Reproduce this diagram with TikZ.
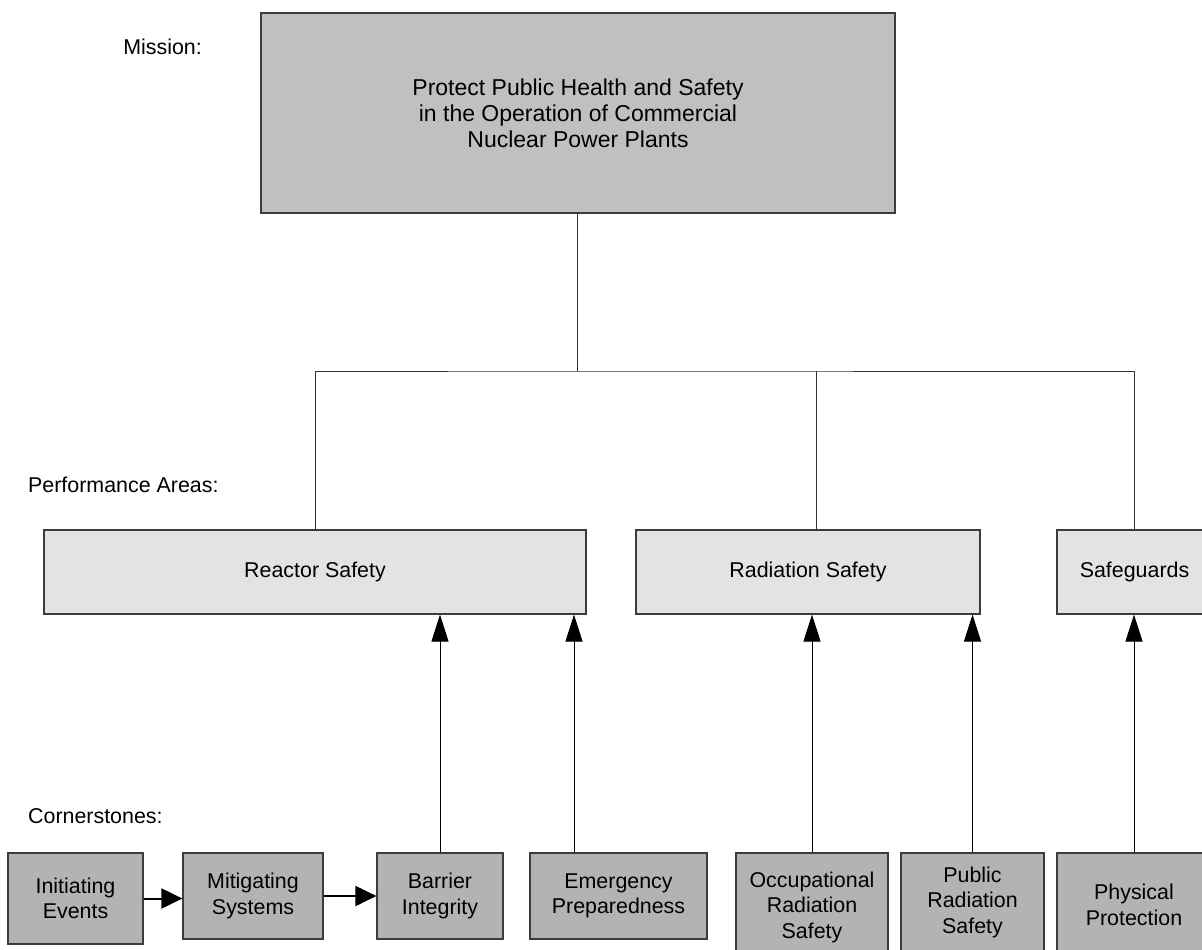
\documentclass[tikz,border=0pt]{standalone}
\usepackage{fontspec}
\setmainfont{Liberation Sans}
\usetikzlibrary{arrows.meta}

\definecolor{missionfill}{HTML}{C0C0C0}
\definecolor{areafill}{HTML}{E3E3E3}
\definecolor{stonefill}{HTML}{B3B3B3}
\definecolor{boxline}{HTML}{3C3C3C}

\tikzset{
  box/.style={draw=boxline, line width=1.2pt, inner sep=0pt, align=center,
    font=\fontsize{21.4}{25.5}\selectfont},
  mission/.style={box, fill=missionfill, minimum width=634pt, minimum height=200pt,
    font=\fontsize{23}{26}\selectfont},
  area/.style={box, fill=areafill, minimum height=84pt},
  stone/.style={box, fill=stonefill},
  label/.style={inner sep=0pt, font=\fontsize{21.4}{25}\selectfont},
  tree/.style={draw=black!80, line width=1pt},
  up/.style={draw=black, line width=1pt, -{Triangle[length=27pt, width=17pt]}},
  chain/.style={draw=black, line width=2pt, -{Triangle[length=21pt, width=20pt]}}
}

\begin{document}
\begin{tikzpicture}[x=1pt, y=-1pt]
\useasboundingbox[fill=white] (0,0) rectangle (1202,950);
\clip (0,0) rectangle (1202,950);

% labels on the left
\node[label, anchor=east] (Lmission) at (202,47) {Mission:};
\node[label, anchor=west] (Lareas) at (28,485) {Performance Areas:};
\node[label, anchor=west] (Lstones) at (28,816) {Cornerstones:};

% mission
\node[mission] (Mission) at (578,113) {Protect Public Health and Safety\\in the Operation of Commercial\\Nuclear Power Plants};

% performance areas
\node[area, minimum width=542pt] (P1) at (315,572) {Reactor Safety};
\node[area, minimum width=344pt] (P2) at (808,572) {Radiation Safety};
\node[area, minimum width=155pt] (P3) at (1134.5,572) {Safeguards};

% cornerstones
\node[stone, minimum width=135pt, minimum height=91pt] (C1) at (75.5,898.5) {Initiating\\Events};
\node[stone, minimum width=140pt, minimum height=86pt] (C2) at (253,896) {Mitigating\\Systems};
\node[stone, minimum width=126pt, minimum height=86pt] (C3) at (440,896) {Barrier\\Integrity};
\node[stone, minimum width=177pt, minimum height=86pt] (C4) at (618.5,896) {Emergency\\Preparedness};
\node[stone, minimum width=152pt, minimum height=108pt] (C5) at (812,907) {Occupational\\Radiation\\Safety};
\node[stone, minimum width=143pt, minimum height=98pt] (C6) at (972.5,902) {Public\\Radiation\\Safety};
\node[stone, minimum width=154pt, minimum height=104pt] (C7) at (1134,905) {Physical\\Protection};

% tree from the mission
\coordinate (bus) at (577,371);
\draw[tree] (Mission.south -| bus) -- (bus);
\draw[tree] (P1.north) |- (bus) -| (P3.north);
\draw[tree] ([xshift=8pt]P2.north) -- ([xshift=8pt]P2.north |- bus);

% cornerstones into areas
\path (C1.east) edge[chain] (C1.east -| C2.west)
      (C2.east) edge[chain] (C2.east -| C3.west)
      (C3.north) edge[up] (C3.north |- P1.south)
      ([xshift=-44.5pt]C4.north) edge[up] ([xshift=-44.5pt]C4.north |- P1.south)
      (C5.north) edge[up] (C5.north |- P2.south)
      (C6.north) edge[up] (C6.north |- P2.south)
      (C7.north) edge[up] (C7.north |- P3.south);
\end{tikzpicture}
\end{document}
